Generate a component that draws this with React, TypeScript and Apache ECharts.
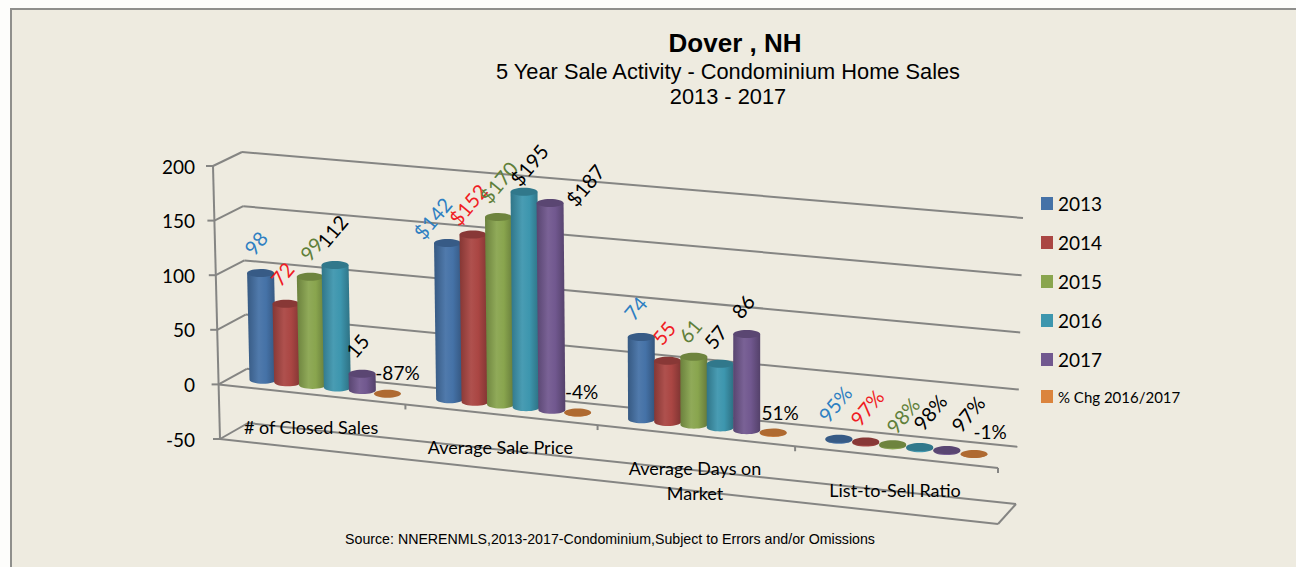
import React, { useEffect, useRef } from "react";
import * as echarts from "echarts";

const categories = ["# of Closed Sales", "Average Sale Price", "Average Days on\nMarket", "List-to-Sell Ratio"];
const seriesNames = ["2013", "2014", "2015", "2016", "2017", "% Chg 2016/2017"];
const values2013 = [98, 142, 74, 0.95];
const values2014 = [72, 152, 55, 0.97];
const values2015 = [99, 170, 61, 0.98];
const values2016 = [112, 195, 57, 0.98];
const values2017 = [15, 187, 86, 0.97];
const valuesChg = [-0.87, -0.04, 0.51, -0.01];
const allValues = [values2013, values2014, values2015, values2016, values2017, valuesChg];
const yTicks = [-50, 0, 50, 100, 150, 200];

const colors = ["#4572A7", "#AA4643", "#89A54E", "#3D96AE", "#71588F", "#DB843D"];
const labelColors = ["#2E7FC2", "#F01C24", "#5F7F3A", "#000000", "#000000", "#000000"];
const LATO = "Lato, sans-serif";
const ARIAL = "'Liberation Sans', Arial, sans-serif";
const GRID = { left: 216, top: 166, width: 782, height: 273 };
const LINE = "#858583";

// Corners of the drawn 3D box: [t, s] with t along the category axis, s down the value axis.
const FRONT = { lt: [213, 166], lb: [220, 439], rt: [998, 244], rb: [998, 524] };
const BACK = { lt: [242, 152], lb: [248, 423], rt: [1023, 218], rb: [1016, 504] };

function mix(box: any, t: number, s: number) {
  const x = (1 - s) * ((1 - t) * box.lt[0] + t * box.rt[0]) + s * ((1 - t) * box.lb[0] + t * box.rb[0]);
  const y = (1 - s) * ((1 - t) * box.lt[1] + t * box.rt[1]) + s * ((1 - t) * box.lb[1] + t * box.rb[1]);
  return [x, y];
}
function project(p: number[], depth: number) {
  const t0 = (p[0] - GRID.left) / GRID.width;
  const t = t0 * (0.945 + 0.055 * t0);
  const s = (p[1] - GRID.top) / GRID.height;
  const f = mix(FRONT, t, s);
  const b = mix(BACK, t, s);
  return [f[0] + (b[0] - f[0]) * depth, f[1] + (b[1] - f[1]) * depth];
}
function shade(hex: string, k: number) {
  const n = parseInt(hex.slice(1), 16);
  const c = [(n >> 16) & 255, (n >> 8) & 255, n & 255].map((v) =>
    Math.max(0, Math.min(255, Math.round(k <= 1 ? v * k : v + (255 - v) * (k - 1))))
  );
  return `rgb(${c[0]},${c[1]},${c[2]})`;
}

const BAR_STEP = 0.134;
const BAR_HALF = 0.069;
const ELLIPSE_RY = 4;
const LABEL_ANGLE = (50 * Math.PI) / 180;
const LABEL_NUDGE = [
  [[-5, -30], [-4, -30], [1, -28], [-3, -34], [-5, -28], [10, -21]],
  [[-15, -25], [-5, -30], [0, -35], [5, -27], [35, -18], [4, -21]],
  [[-6, -29], [-4, -28], [-4, -26], [-5, -27], [-4, -28], [7, -20]],
  [[-4, -35], [1, -34], [10, -29], [10, -35], [21, -36], [16, -22]],
];

function barPoint(api: any, cat: number, k: number, value: number) {
  const band = api.size([1, 0])[0];
  const c = api.coord([cat, value]);
  return project([c[0] + (k - 2.5) * BAR_STEP * band, c[1]], 0.5);
}

function renderBar(params: any, api: any) {
  const cat = api.value(0);
  const value = api.value(1);
  const k = params.seriesIndex - 2;
  const color = colors[k];
  const band = api.size([1, 0])[0];
  const rx = band * BAR_HALF;
  const top = barPoint(api, cat, k, value);
  const base = barPoint(api, cat, k, 0);
  const pts: number[][] = [[top[0] - rx, top[1]], [top[0] + rx, top[1]]];
  for (let i = 0; i <= 16; i++) {
    const a = (i / 16) * Math.PI;
    pts.push([base[0] + rx * Math.cos(a), base[1] + ELLIPSE_RY * Math.sin(a)]);
  }
  return {
    type: "group",
    children: [
      {
        type: "polygon",
        shape: { points: pts },
        style: {
          fill: new echarts.graphic.LinearGradient(0, 0, 1, 0, [
            { offset: 0, color: shade(color, 0.78) },
            { offset: 0.4, color: shade(color, 1.06) },
            { offset: 0.65, color: shade(color, 1.0) },
            { offset: 1, color: shade(color, 0.74) },
          ]),
        },
      },
      {
        type: "ellipse",
        shape: { cx: top[0], cy: top[1], rx, ry: ELLIPSE_RY },
        style: { fill: shade(color, 0.8) },
      },
    ],
  };
}

function formatLabel(cat: number, k: number, value: number) {
  if (k === 5) return `${Math.round(value * 100)}%`;
  if (cat === 1) return `$${value}`;
  if (cat === 3) return `${Math.round(value * 100)}%`;
  return `${value}`;
}

function renderLabel(_p: any, api: any) {
  const cat = api.value(0);
  const value = api.value(1);
  const k = api.value(2);
  const top = barPoint(api, cat, k, value);
  const n = LABEL_NUDGE[cat][k];
  return {
    type: "text",
    x: top[0] + n[0],
    y: top[1] + n[1],
    rotation: k === 5 ? 0 : LABEL_ANGLE,
    style: {
      text: formatLabel(cat, k, value),
      x: 0,
      y: 0,
      align: "center",
      verticalAlign: "middle",
      font: `${k === 5 ? 19 : 20}px ${LATO}`,
      fill: labelColors[k],
    },
  };
}

function seg(a: number[], b: number[]) {
  return {
    type: "line",
    shape: { x1: a[0], y1: a[1], x2: b[0], y2: b[1] },
    style: { stroke: LINE, lineWidth: 2 },
  };
}

function renderWall(_p: any, api: any) {
  const v = api.value(1);
  const left = api.coord([0, v])[1];
  const xl = GRID.left;
  const xr = GRID.left + GRID.width;
  const fl = project([xl, left], 0);
  const bl = project([xl, left], 1);
  const br = project([xr, left], 1);
  const fr = project([xr, left], 0);
  const children: any[] = [seg(bl, br), seg(fl, bl), seg([fl[0] - 7, fl[1]], fl)];
  if (v === yTicks[0]) {
    children.push(seg(fl, fr), seg(fr, br));
    const top = project([xl, api.coord([0, yTicks[yTicks.length - 1]])[1]], 0);
    children.push(seg(top, fl));
  }
  if (v === 0) {
    children.push(seg(fl, fr));
    for (let i = 1; i <= categories.length; i++) {
      const p = project([xl + (i / categories.length) * GRID.width, left], 0);
      children.push(seg(p, [p[0], p[1] + 5]));
    }
  }
  return { type: "group", children };
}

function renderCategory(_p: any, api: any) {
  const i = api.value(0);
  const c = api.coord([i, -30]);
  const p = project(c, 0);
  return {
    type: "text",
    x: p[0] - 1,
    y: p[1] - 13,
    style: {
      text: categories[i],
      x: 0,
      y: 0,
      align: "center",
      verticalAlign: "top",
      font: `18px ${LATO}`,
      lineHeight: 25,
      fill: "#000000",
    },
  };
}

export default function App() {
  const ref = useRef<HTMLDivElement>(null);
  useEffect(() => {
    if (!ref.current) return;
    const chart = echarts.init(ref.current, undefined, { renderer: "svg" });
    const xy = (vals: number[]) => vals.map((v, i) => [i, v]);
    const labelData: number[][] = [];
    allValues.forEach((vals, k) => vals.forEach((v, i) => labelData.push([i, v, k])));
    chart.setOption({
      animation: false,
      backgroundColor: "#FDFDFB",
      color: colors,
      title: [
        { text: "Dover , NH", left: 735, top: 30, textAlign: "center", padding: 0, textStyle: { fontFamily: ARIAL, fontSize: 26, fontWeight: "bold", color: "#000" } },
        { text: "5 Year Sale Activity - Condominium Home Sales", left: 728, top: 60, textAlign: "center", padding: 0, textStyle: { fontFamily: ARIAL, fontSize: 21.8, fontWeight: "normal", color: "#000" } },
        { text: "2013 - 2017", left: 728, top: 85, textAlign: "center", padding: 0, textStyle: { fontFamily: ARIAL, fontSize: 21.8, fontWeight: "normal", color: "#000" } },
        { text: "Source: NNERENMLS,2013-2017-Condominium,Subject to Errors and/or Omissions", left: 610, top: 532, textAlign: "center", padding: 0, textStyle: { fontFamily: ARIAL, fontSize: 14.2, fontWeight: "normal", color: "#000" } },
      ],
      graphic: [
        {
          type: "rect",
          z: -10,
          silent: true,
          shape: { x: 11, y: 9, width: 1300, height: 570 },
          style: { fill: "#EEEBE0", stroke: "#8F8F8C", lineWidth: 2 },
        },
      ],
      legend: {
        orient: "vertical",
        left: 1041,
        top: 194,
        itemWidth: 12,
        itemHeight: 13,
        itemGap: 20,
        padding: 0,
        selectedMode: false,
        icon: "rect",
        textStyle: { fontFamily: LATO, fontSize: 19, color: "#000" },
        data: seriesNames.map((name, i) =>
          i === 5 ? { name, textStyle: { fontSize: 15, fontFamily: LATO, color: "#000" } } : { name }
        ),
      },
      grid: { ...GRID, containLabel: false },
      xAxis: {
        type: "category",
        data: categories,
        axisLine: { show: false },
        axisTick: { show: false },
        axisLabel: { show: false },
        splitLine: { show: false },
      },
      yAxis: {
        type: "value",
        min: -50,
        max: 200,
        interval: 50,
        axisLine: { show: false },
        axisTick: { show: false },
        splitLine: { show: false },
        axisLabel: { margin: 21, fontFamily: LATO, fontSize: 19, color: "#000" },
      },
      series: [
        { type: "custom", name: "walls", silent: true, clip: false, renderItem: renderWall, data: yTicks.map((v) => [0, v]), z: 1 },
        { type: "custom", name: "categories", silent: true, clip: false, renderItem: renderCategory, data: categories.map((_, i) => [i, 0]), z: 4 },
        ...allValues.map((vals, k) => ({
          type: "custom",
          name: seriesNames[k],
          silent: true,
          clip: false,
          renderItem: renderBar,
          itemStyle: { color: colors[k] },
          data: xy(vals),
          z: 2,
        })),
        { type: "custom", name: "labels", silent: true, clip: false, renderItem: renderLabel, data: labelData, z: 5 },
      ],
    });
    return () => chart.dispose();
  }, []);
  return <div ref={ref} style={{ position: "fixed", left: 0, top: 0, width: 1296, height: 567 }} />;
}
